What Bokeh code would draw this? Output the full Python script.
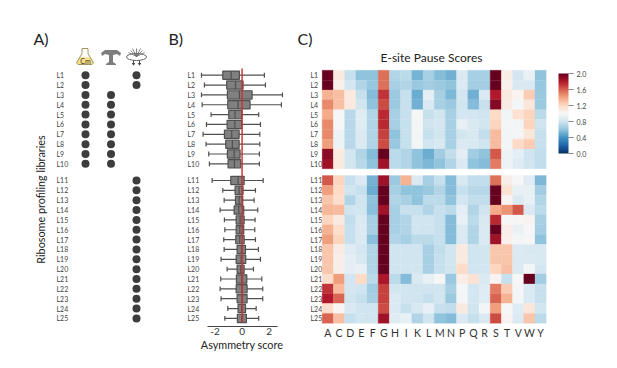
import numpy as np
from bokeh.embed import file_html
from bokeh.resources import INLINE
from bokeh.plotting import figure
from bokeh.layouts import row
from bokeh.models import (Range1d, FixedTicker, ColorBar, LinearColorMapper,
                          ColumnDataSource, NumeralTickFormatter)
from bokeh.core.properties import value
from bokeh.palettes import RdBu11

FONT = "Lato"
libraries = [f"L{i}" for i in range(1, 26)]
amino_acids = list("ACDEFGHIKLMNPQRSTVWY")

# Panel A: which protocol column is marked per library
cm_libs = libraries[:10]
tig_libs = libraries[2:10]
lysis_libs = libraries[:2] + libraries[10:]

# Panel B: asymmetry score box statistics
whisker_low = [-3.01,-2.79,-3.01,-2.96,-2.30,-2.64,-2.89,-2.67,-2.47,-2.42,
               -2.22,-1.43,-1.33,-1.63,-1.31,-1.28,-1.36,-1.33,-1.56,-1.11,-1.58,-1.63,-1.56,-1.06,-1.28]
q1 = [-1.43,-1.14,-1.09,-1.06,-0.99,-1.11,-1.31,-1.21,-1.09,-1.04,
      -0.84,-0.52,-0.49,-0.59,-0.44,-0.44,-0.47,-0.37,-0.44,-0.37,-0.42,-0.44,-0.37,-0.30,-0.35]
median = [-0.81,-0.49,-0.20,-0.30,-0.52,-0.54,-0.77,-0.72,-0.59,-0.57,
          -0.30,-0.22,-0.22,-0.25,-0.15,-0.17,-0.17,-0.05,-0.07,-0.10,-0.02,-0.02,0.0,-0.02,0.0]
q3 = [-0.20,0.07,0.74,0.59,-0.02,-0.02,-0.22,-0.22,-0.15,-0.10,
      0.15,0.07,0.05,0.12,0.15,0.12,0.15,0.25,0.27,0.15,0.35,0.37,0.37,0.25,0.32]
whisker_high = [1.65,1.73,2.99,2.91,1.23,1.36,1.31,1.31,1.28,1.28,
                1.56,0.99,0.89,1.16,0.96,0.94,0.99,1.21,1.36,0.84,1.46,1.53,1.53,1.04,1.23]

# Panel C: E-site pause scores, rows L1..L25, columns amino_acids
scores = [
 [2.00,1.10,.77,.60,.60,1.55,.70,.73,.53,.67,.57,.52,.85,.67,.67,2.00,1.07,.82,.93,.60],
 [2.00,1.05,.82,.70,.62,1.55,.67,.70,.63,.65,.63,.60,.85,.65,.65,2.00,1.05,.84,.85,.62],
 [1.35,1.30,1.10,.77,.57,1.72,.63,.77,.50,.90,.67,.55,.82,.52,.85,1.80,1.10,1.03,1.25,.63],
 [1.48,1.30,1.10,.81,.60,1.65,.63,.77,.52,.85,.67,.63,.80,.57,.77,1.92,1.08,.98,1.12,.63],
 [1.38,1.00,.72,.88,.70,1.75,.67,.77,1.00,.77,.81,.67,.82,.82,.80,1.20,.97,1.15,1.22,.73],
 [1.48,1.00,.72,.88,.70,1.75,.67,.77,.97,.80,.82,.67,.92,.84,.81,1.22,.98,.97,1.22,.80],
 [1.48,.95,.72,.85,.70,1.68,.60,.77,.97,.77,.81,.67,.81,.84,.75,1.32,.97,.98,1.12,.77],
 [1.42,.95,.72,.85,.70,1.65,.62,.77,.97,.80,.84,.67,.85,.84,.80,1.32,.97,1.20,1.25,.77],
 [1.90,1.10,.81,.70,.57,2.00,.73,.70,.60,.50,.65,.75,.90,.65,.60,1.62,.95,.90,.80,.75],
 [1.85,1.10,.81,.72,.60,1.85,.73,.70,.60,.55,.60,.70,.85,.60,.57,1.52,.95,.87,.80,.75],
 [1.62,1.22,.77,.85,.53,1.85,.63,1.35,.85,.67,.77,.57,.84,.75,.75,1.55,1.07,1.00,.88,.55],
 [1.42,1.20,.80,.77,.50,2.00,.67,.60,.60,.63,.70,.57,.77,.72,.72,2.00,1.15,.92,.92,.65],
 [1.28,1.18,.70,.80,.60,2.00,.70,.67,.60,.73,.73,.60,.82,.75,.75,2.00,1.03,.85,.92,.70],
 [1.33,1.32,.80,.81,.58,1.85,.67,.77,.77,.70,.77,.73,.90,.70,.80,1.38,1.45,1.62,.85,.73],
 [1.22,1.10,.75,.85,.67,2.00,.67,.70,.80,.80,.77,.57,.92,.73,.84,1.75,1.00,1.00,1.03,.67],
 [1.35,1.18,.77,.85,.67,2.00,.67,.70,.80,.80,.77,.57,.85,.70,.85,2.00,1.07,.93,1.00,.65],
 [1.42,1.22,.77,.85,.58,2.00,.70,.67,.73,.73,.77,.57,.85,.70,.85,1.85,1.05,.97,1.00,.60],
 [1.28,1.08,.88,.82,.70,2.00,.80,.80,.80,.67,.75,.81,1.10,.80,.81,1.28,1.28,.85,.84,.84],
 [1.28,1.07,.90,.84,.70,2.00,.80,.80,.80,.67,.77,.81,1.10,.80,.81,1.28,1.28,.85,.85,.84],
 [1.28,1.07,.90,.92,.70,2.00,.80,.80,.81,.67,.77,.81,1.20,.80,.82,1.22,1.30,.85,.97,.82],
 [1.18,1.42,.82,1.20,.73,1.82,.73,.57,.85,.92,1.00,.63,1.07,1.15,.85,1.03,.77,1.00,2.00,.65],
 [1.72,1.32,.82,.80,.65,1.68,.81,.80,.80,.80,.80,.67,.98,.82,.88,1.52,1.25,.98,.85,.77],
 [1.80,1.58,.80,.77,.67,1.68,.85,.80,.80,.77,.81,.63,.98,.82,.88,1.58,1.35,.98,.85,.77],
 [1.18,1.02,.84,.80,.80,1.65,.85,.77,.84,.92,.77,.75,1.10,.80,.97,1.42,1.00,.88,1.12,.81],
 [1.58,1.30,.77,.81,.80,1.85,.88,.92,.70,.80,.60,.57,.85,.77,.85,1.65,1.03,.85,1.28,.73],
]

# --- layout helpers (page pixels) ---
ROW0, ROWH = 74.7, 9.85
GROUP_GAP = 0.69
H, TOP, BOTTOM = 366, 26, 326
def row_pos(i):
    return i + (GROUP_GAP if i >= 10 else 0)
ypos = [row_pos(i) for i in range(25)]
def y_of(px):
    return (px - ROW0) / ROWH
def base(width, left, x_range):
    p = figure(width=width, height=H, output_backend="svg", toolbar_location=None,
               x_range=x_range, y_range=Range1d(y_of(BOTTOM), y_of(TOP)),
               min_border_left=left, min_border_right=0, min_border_top=TOP, min_border_bottom=H - BOTTOM)
    p.frame_align = False
    p.outline_line_color = None
    p.grid.visible = False
    p.background_fill_color = "white"
    p.yaxis.visible = False
    return p
def note(p, tx, text, x, y, size="16px", angle=0, color="#222222", align="left"):
    p.text([tx(x)], [y_of(y)], text=[text], angle=angle, text_font=value(FONT), text_font_size=size,
           text_color=color, text_align=align, text_baseline="middle")
def row_labels(p, x):
    src = ColumnDataSource(dict(x=[x] * 25, y=ypos, t=libraries))
    p.text("x", "y", text="t", source=src, text_font=value(FONT), text_font_size="7px",
           text_color="#444444", text_align="left", text_baseline="middle")

# --- Panel A ---
A_L, A_R, A_S = 30, 186, 25.5
ax = lambda px: (px - 85) / A_S
pa = base(A_R, A_L, Range1d(ax(A_L), ax(A_R)))
pa.xaxis.visible = False
row_labels(pa, ax(56))
for c, libs in enumerate([cm_libs, tig_libs, lysis_libs]):
    ys = [ypos[libraries.index(l)] for l in libs]
    pa.scatter([c] * len(ys), ys, size=8, color="#3d3d3d", line_color=None)
def ic(cx, cy, pts):
    return [ax(cx + a) for a, _ in pts], [y_of(cy + b) for _, b in pts]
fl = [(-3,-8),(3,-8),(3,-3),(8.5,6.5),(7,8),(-7,8),(-8.5,6.5),(-3,-3)]
lq = [(-5.6,0.8),(5.6,0.8),(8.2,6.5),(7,7.8),(-7,7.8),(-8.2,6.5)]
x_, y_ = ic(84.5, 56, lq); pa.patch(x_, y_, color="#fbe08a", line_color=None)
x_, y_ = ic(84.5, 56, fl); pa.patch(x_, y_, fill_color=None, line_color="#a2945f", line_width=1)
note(pa, ax, "Cm", 85, 60, size="7px", color="#333333", align="center")
rb = [(-10,-4),(-6,-7),(6,-7),(10,-4),(9,-1),(6,-3),(2,-2),(2,5),(5,7),(5,8),(-5,8),(-5,7),(-2,5),(-2,-2),(-6,-3),(-9,-1)]
x_, y_ = ic(110.5, 56.5, rb); pa.patch(x_, y_, color="#7d7d7d", line_color=None)
pa.ellipse([ax(136)], [y_of(56.5)], width=[20 / A_S], height=[7 / ROWH], fill_color=None,
           line_color="#666666", line_width=1)
for a, b in [(-8,-4),(-4,-8),(0,-8),(4,-8),(8,-4),(-6,-6),(6,-6)]:
    pa.line([ax(136), ax(136 + a)], [y_of(56), y_of(56 + b)], line_color="#666666", line_width=0.8)
for a in (-3, 3):
    pa.line([ax(136 + a)] * 2, [y_of(60), y_of(64)], line_color="#444444", line_width=1)
    x_, y_ = ic(136 + a, 64, [(-1.8,-1.5),(1.8,-1.5),(0,1.2)]); pa.patch(x_, y_, color="#444444", line_color=None)
note(pa, ax, "A)", 33, 38)
note(pa, ax, "B)", 168, 38)
note(pa, ax, "Ribosome profiling libraries", 40, 199, size="10.8px", angle=np.pi / 2, align="center")

# --- Panel B ---
B_S, B_0 = 13.5, 241.6
bx = lambda px: (px - B_0) / B_S
pb = base(111, 0, Range1d(bx(186), bx(297)))
row_labels(pb, bx(187))
GREY = "#505050"
LW = 1.2
pb.segment(whisker_low, ypos, whisker_high, ypos, line_color=GREY, line_width=LW)
cap = 0.25
pb.segment(whisker_low, [y - cap for y in ypos], whisker_low, [y + cap for y in ypos], line_color=GREY, line_width=LW)
pb.segment(whisker_high, [y - cap for y in ypos], whisker_high, [y + cap for y in ypos], line_color=GREY, line_width=LW)
pb.hbar(y=ypos, left=q1, right=q3, height=0.84, fill_color="#808080", line_color=GREY, line_width=LW)
pb.segment(median, [y - .42 for y in ypos], median, [y + .42 for y in ypos], line_color=GREY, line_width=LW)
pb.segment([0], [y_of(68)], [0], [y_of(322)], line_color="#cc2f2f", line_width=1.8, line_alpha=0.8)
xa = pb.xaxis[0]
xa.ticker = FixedTicker(ticks=[-2, 0, 2])
xa.major_label_overrides = {-2: "-2", 0: "0", 2: "2"}
xa.bounds = (bx(206.7), bx(277.3))
xa.axis_line_color = "#444444"
xa.major_tick_line_color = None
xa.minor_tick_line_color = None
xa.major_tick_out = 0
xa.major_tick_in = 0
xa.major_label_text_font = FONT
xa.major_label_text_font_size = "10px"
xa.major_label_text_color = "#333333"
xa.major_label_standoff = 1
xa.axis_label = "Asymmetry score"
xa.axis_label_text_font = FONT
xa.axis_label_text_font_size = "10.8px"
xa.axis_label_text_font_style = "normal"
xa.axis_label_text_color = "#222222"
xa.axis_label_standoff = 0

# --- Panel C ---
C_S, C_0 = 11.2, 321.7
cx = lambda px: (px - C_0) / C_S - 0.5
pc = base(312, 0, Range1d(cx(297), cx(609)))
row_labels(pc, cx(310))
def build_palette(n=256):
    anchors = np.array([[int(c[i:i+2], 16) for i in (1, 3, 5)] for c in RdBu11], float)
    t = np.linspace(0, 10, n)
    rgb = np.stack([np.interp(t, np.arange(11), anchors[:, k]) for k in range(3)], 1).round().astype(int)
    return ["#%02x%02x%02x" % tuple(v) for v in rgb]
mapper = LinearColorMapper(palette=build_palette(), low=0, high=2)
cx_, cy_, cv_ = [], [], []
for i, rw in enumerate(scores):
    for j, v in enumerate(rw):
        cx_.append(j); cy_.append(ypos[i]); cv_.append(v)
pc.rect("x", "y", width=1, height=1, source=ColumnDataSource(dict(x=cx_, y=cy_, v=cv_)),
        fill_color={"field": "v", "transform": mapper}, line_color={"field": "v", "transform": mapper},
        line_width=0.3)
xc = pc.xaxis[0]
xc.ticker = FixedTicker(ticks=list(range(20)))
xc.major_label_overrides = {i: a for i, a in enumerate(amino_acids)}
xc.axis_line_color = None
xc.major_tick_line_color = None
xc.minor_tick_line_color = None
xc.major_tick_out = 0
xc.major_tick_in = 0
xc.major_label_text_font = FONT
xc.major_label_text_font_size = "10.5px"
xc.major_label_text_color = "#333333"
xc.major_label_standoff = 0
cb = ColorBar(color_mapper=mapper, width=10, height=80, location=(558 - 297, BOTTOM - 153),
              ticker=FixedTicker(ticks=[0, .4, .8, 1.2, 1.6, 2.0]),
              formatter=NumeralTickFormatter(format="0.0"),
              major_tick_in=0, major_tick_out=5, major_tick_line_color="#888888", minor_tick_line_color=None,
              major_label_text_font=FONT, major_label_text_font_size="7px", major_label_text_color="#444444",
              label_standoff=3, bar_line_color=None, background_fill_color=None,
              border_line_color=None, padding=0, margin=0)
pc.add_layout(cb, "center")
note(pc, cx, "C)", 297, 38)
note(pc, cx, "E-site Pause Scores", 431, 57, size="12px", align="center")

layout = row(pa, pb, pc, spacing=0)
open("out.html", "w").write(file_html(layout, INLINE))
